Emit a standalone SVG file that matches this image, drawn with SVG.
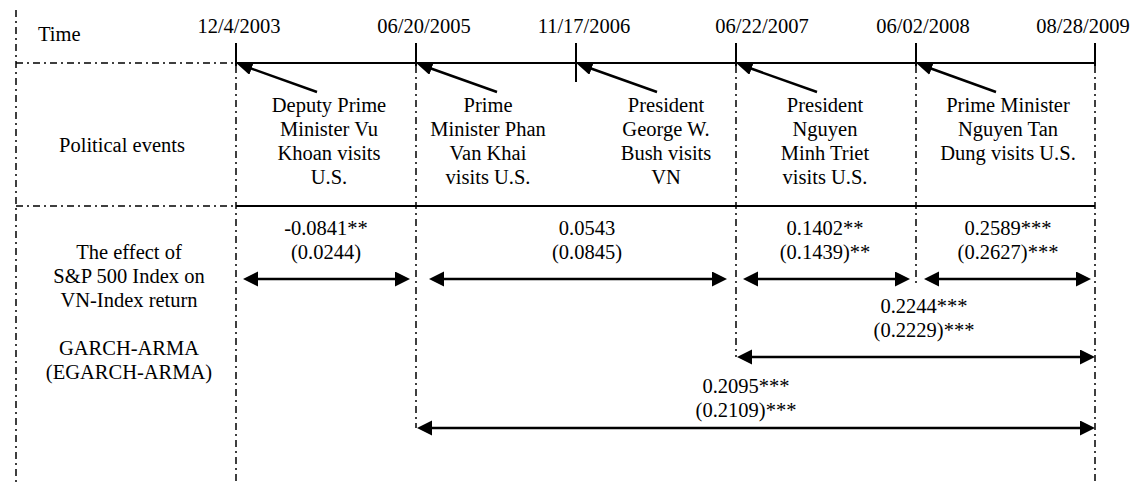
<svg xmlns="http://www.w3.org/2000/svg" width="1132" height="482" viewBox="0 0 1132 482" font-family="'Liberation Serif', 'DejaVu Serif', serif">
<style>
text{font-family:'Liberation Serif','DejaVu Serif',serif;font-size:20.5px;fill:#000}
.m{text-anchor:middle}
.dd{stroke:#000;stroke-width:1.5;fill:none;stroke-dasharray:7 4 2 4}
.sl{stroke:#000;stroke-width:1.8;fill:none}
.tk{stroke:#000;stroke-width:2;fill:none}
.da{stroke:#000;stroke-width:2.6;fill:none;marker-start:url(#ah);marker-end:url(#ah)}
.pa{stroke:#000;stroke-width:2.4;fill:none;marker-end:url(#ph)}
</style>
<defs>
<marker id="ah" markerUnits="userSpaceOnUse" markerWidth="16" markerHeight="16" refX="7" refY="7.5" orient="auto-start-reverse"><path d="M0,0 L15,7.5 L0,15 z" fill="#000"/></marker>
<marker id="ph" markerUnits="userSpaceOnUse" markerWidth="16" markerHeight="14" refX="8" refY="6.5" orient="auto"><path d="M0,0 L16,6.5 L0,13 z" fill="#000"/></marker>
</defs>
<g id="grid">
<line class="dd" x1="16" y1="10" x2="16" y2="482"/>
<line class="dd" x1="16" y1="63" x2="236" y2="63"/>
<line class="dd" x1="16" y1="206" x2="236" y2="206"/>
<line class="sl" x1="236" y1="63" x2="1095" y2="63"/>
<line class="sl" x1="236" y1="206" x2="1095" y2="206"/>
<line class="tk" x1="236" y1="43" x2="236" y2="66"/>
<line class="tk" x1="416" y1="43" x2="416" y2="66"/>
<line class="tk" x1="576" y1="43" x2="576" y2="82"/>
<line class="tk" x1="736" y1="43" x2="736" y2="66"/>
<line class="tk" x1="916" y1="43" x2="916" y2="66"/>
<line class="tk" x1="1095" y1="43" x2="1095" y2="66"/>
<line class="dd" x1="236" y1="66" x2="236" y2="482"/>
<line class="dd" x1="416" y1="66" x2="416" y2="428"/>
<line class="dd" x1="736" y1="66" x2="736" y2="357"/>
<line class="dd" x1="916" y1="66" x2="916" y2="283"/>
<line class="dd" x1="1095" y1="66" x2="1095" y2="482"/>
</g>
<g id="labels-time">
<text x="38" y="41">Time</text>
<text class="m" x="239" y="33">12/4/2003</text>
<text class="m" x="424" y="33">06/20/2005</text>
<text class="m" x="584" y="33">11/17/2006</text>
<text class="m" x="762" y="33">06/22/2007</text>
<text class="m" x="923" y="33">06/02/2008</text>
<text class="m" x="1083" y="33">08/28/2009</text>
</g>
<g id="row-labels">
<text class="m" x="122" y="152">Political events</text>
<text class="m" x="129" y="259">The effect of</text>
<text class="m" x="129" y="283">S&amp;P 500 Index on</text>
<text class="m" x="129" y="307">VN-Index return</text>
<text class="m" x="129" y="355">GARCH-ARMA</text>
<text class="m" x="129" y="379">(EGARCH-ARMA)</text>
</g>
<g id="event1">
<text class="m" x="329" y="112">Deputy Prime</text>
<text class="m" x="329" y="136">Minister Vu</text>
<text class="m" x="329" y="160">Khoan visits</text>
<text class="m" x="329" y="184">U.S.</text>
</g>
<g id="event2">
<text class="m" x="488" y="112">Prime</text>
<text class="m" x="488" y="136">Minister Phan</text>
<text class="m" x="488" y="160">Van Khai</text>
<text class="m" x="488" y="184">visits U.S.</text>
</g>
<g id="event3">
<text class="m" x="666" y="112">President</text>
<text class="m" x="666" y="136">George W.</text>
<text class="m" x="666" y="160">Bush visits</text>
<text class="m" x="666" y="184">VN</text>
</g>
<g id="event4">
<text class="m" x="825" y="112">President</text>
<text class="m" x="825" y="136">Nguyen</text>
<text class="m" x="825" y="160">Minh Triet</text>
<text class="m" x="825" y="184">visits U.S.</text>
</g>
<g id="event5">
<text class="m" x="1008" y="112">Prime Minister</text>
<text class="m" x="1008" y="136">Nguyen Tan</text>
<text class="m" x="1008" y="160">Dung visits U.S.</text>
</g>
<g id="effects">
<text class="m" x="326" y="235">-0.0841**</text>
<text class="m" x="326" y="259">(0.0244)</text>
<text class="m" x="587" y="235">0.0543</text>
<text class="m" x="587" y="259">(0.0845)</text>
<text class="m" x="825" y="235">0.1402**</text>
<text class="m" x="825" y="259">(0.1439)**</text>
<text class="m" x="1008" y="235">0.2589***</text>
<text class="m" x="1008" y="259">(0.2627)***</text>
<text class="m" x="924" y="313">0.2244***</text>
<text class="m" x="924" y="337">(0.2229)***</text>
<text class="m" x="746" y="393">0.2095***</text>
<text class="m" x="746" y="417">(0.2109)***</text>
</g>
<g id="connectors">
<line class="pa" x1="317" y1="92" x2="244" y2="66"/>
<line class="pa" x1="497" y1="92" x2="424" y2="66"/>
<line class="pa" x1="657" y1="92" x2="584" y2="66"/>
<line class="pa" x1="817" y1="92" x2="744" y2="66"/>
<line class="pa" x1="996" y1="92" x2="924" y2="66"/>
<line class="da" x1="251" y1="279" x2="402" y2="279"/>
<line class="da" x1="437" y1="279" x2="719" y2="279"/>
<line class="da" x1="751" y1="279" x2="902" y2="279"/>
<line class="da" x1="932" y1="279" x2="1083" y2="279"/>
<line class="da" x1="745" y1="357" x2="1087" y2="357"/>
<line class="da" x1="425" y1="428" x2="1087" y2="428"/>
</g>
</svg>
